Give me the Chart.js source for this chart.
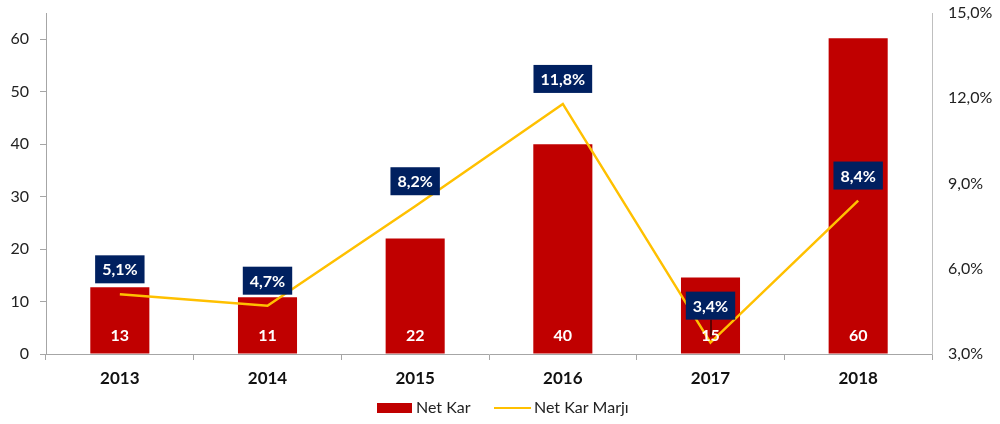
<!DOCTYPE html>
<html><head><meta charset="utf-8">
<script src="https://cdn.jsdelivr.net/npm/chart.js@4.4.0/dist/chart.umd.min.js"></script>
<style>html,body{margin:0;padding:0;background:#fff}#wrap{width:1000px;height:424px}</style>
</head><body><div id="wrap"><canvas id="c" width="1000" height="424"></canvas></div>
<script>
const years = ['2013','2014','2015','2016','2017','2018'];
const netKar = [12.7, 10.8, 22, 40, 14.6, 60.2];
const netKarMarji = [5.1, 4.7, 8.2, 11.8, 3.4, 8.4];
const leftTicks = [0,10,20,30,40,50,60];
const rightTicks = [3,6,9,12,15];

const FONT = 'Lato, "Open Sans", sans-serif';
const fmtPct = v => v.toFixed(1).replace('.', ',') + '%';

const labelsPlugin = {
  id: 'labels',
  afterDatasetsDraw(chart) {
    const ctx = chart.ctx;
    const bm = chart.getDatasetMeta(0);
    ctx.save();
    ctx.font = 'bold 16px ' + FONT;
    ctx.fillStyle = '#fff';
    ctx.textAlign = 'center';
    ctx.textBaseline = 'middle';
    bm.data.forEach((el, i) => {
      ctx.fillText(String(Math.round(netKar[i])), el.x, el.base - 18);
    });
    const lm = chart.getDatasetMeta(1);
    lm.data.forEach((el, i) => {
      const txt = fmtPct(netKarMarji[i]);
      const w = ctx.measureText(txt).width + 14;
      const h = 28;
      const off = i === 4 ? 37 : 25;
      const cy = el.y - off;
      if (i === 4) {
        ctx.strokeStyle = '#000'; ctx.lineWidth = 1;
        ctx.beginPath(); ctx.moveTo(el.x + 0.5, cy + h/2); ctx.lineTo(el.x + 0.5, el.y - 6); ctx.stroke();
      }
      ctx.fillStyle = '#002060';
      ctx.fillRect(el.x - w/2, cy - h/2, w, h);
      ctx.fillStyle = '#fff';
      ctx.fillText(txt, el.x, cy + 1);
    });
    ctx.restore();
  },
  afterDraw(chart) {
    const ctx = chart.ctx;
    ctx.save();
    ctx.font = '16px ' + FONT;
    ctx.textBaseline = 'middle';
    ctx.fillStyle = chart.data.datasets[0].backgroundColor;
    ctx.fillRect(377, 403, 35, 10);
    ctx.fillStyle = '#222';
    ctx.fillText(chart.data.datasets[0].label, 416, 408);
    ctx.strokeStyle = chart.data.datasets[1].borderColor;
    ctx.lineWidth = 2;
    ctx.beginPath(); ctx.moveTo(494, 408); ctx.lineTo(531, 408); ctx.stroke();
    ctx.fillText(chart.data.datasets[1].label, 534, 408);
    ctx.restore();
  }
};

new Chart(document.getElementById('c'), {
  type: 'bar',
  data: {
    labels: years,
    datasets: [
      { type: 'bar', label: 'Net Kar', data: netKar, backgroundColor: '#C00000',
        yAxisID: 'y', order: 1, categoryPercentage: 1, barPercentage: 0.4 },
      { type: 'line', label: 'Net Kar Marjı', data: netKarMarji, borderColor: '#FFC000',
        backgroundColor: '#FFC000', borderWidth: 2.5, pointRadius: 0, tension: 0,
        yAxisID: 'y1', order: 0 }
    ]
  },
  options: {
    responsive: false,
    animation: false,
    layout: { padding: { top: 13, right: 0, left: 0, bottom: 0 } },
    plugins: { legend: { display: false }, tooltip: { enabled: false } },
    scales: {
      x: {
        offset: true,
        grid: { display: true, drawOnChartArea: false, offset: true, tickLength: 6, color: '#A6A6A6' },
        border: { color: '#A6A6A6' },
        ticks: { font: { family: FONT, size: 17, weight: 'bold' }, color: '#111', padding: 8 },
        afterFit(s) { s.height = 70; s.paddingLeft = 0; s.paddingRight = 0; }
      },
      y: {
        position: 'left', min: 0, max: 65,
        afterBuildTicks(s) { s.ticks = leftTicks.map(v => ({ value: v })); },
        grid: { display: true, drawOnChartArea: false, tickLength: 6, color: '#A6A6A6' },
        border: { color: '#A6A6A6' },
        ticks: { font: { family: FONT, size: 16 }, color: '#222', padding: 11 },
        afterFit(s) { s.width = 46; s.paddingTop = 0; s.paddingBottom = 0; }
      },
      y1: {
        position: 'right', min: 3, max: 15,
        afterBuildTicks(s) { s.ticks = rightTicks.map(v => ({ value: v })); },
        grid: { display: true, drawOnChartArea: false, drawTicks: false, color: '#BFBFBF' },
        border: { color: '#BFBFBF' },
        ticks: { font: { family: FONT, size: 16 }, color: '#222', padding: 16, callback: v => fmtPct(v) },
        afterFit(s) { s.width = 68; s.paddingTop = 0; s.paddingBottom = 0; }
      }
    }
  },
  plugins: [labelsPlugin]
});
</script>
</body></html>
